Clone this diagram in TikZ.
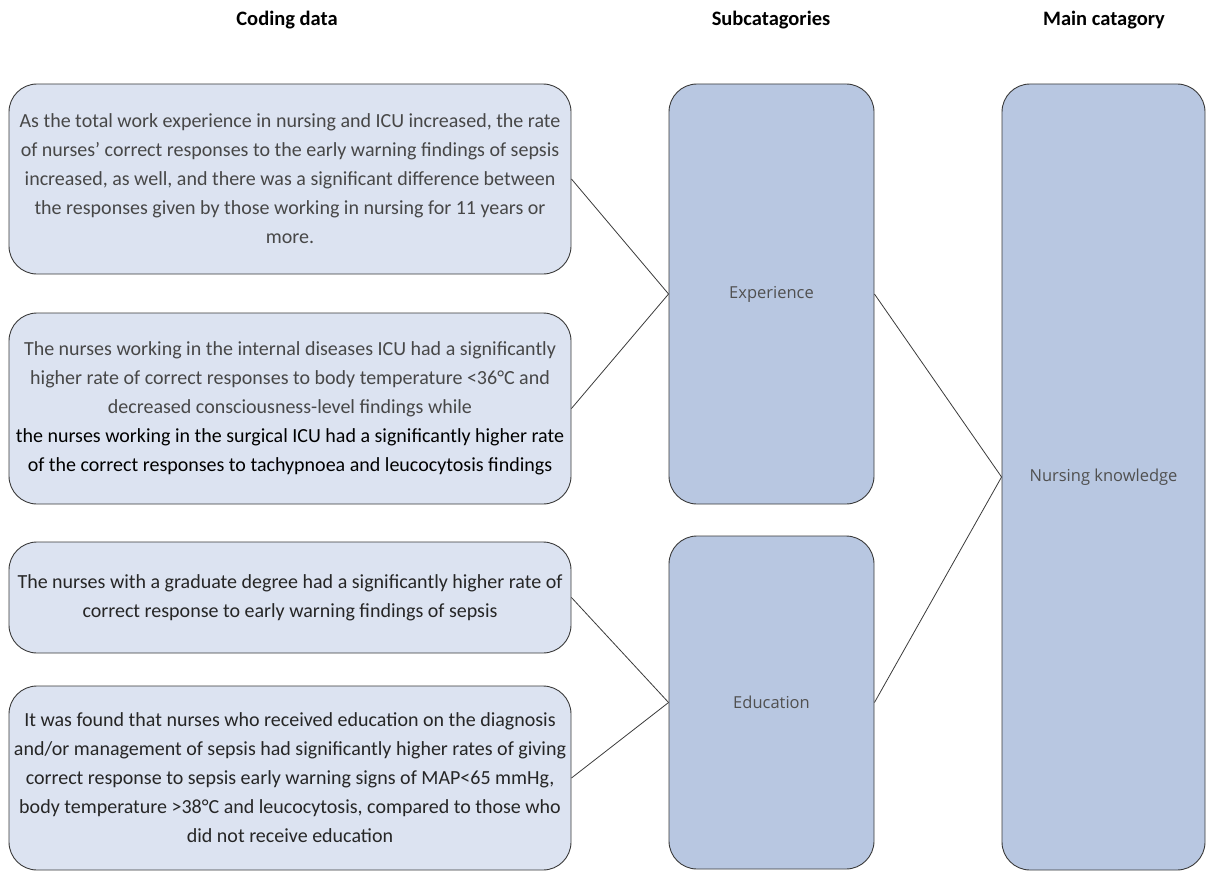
\documentclass[tikz,border=0pt]{standalone}
\usepackage{fontspec}
\setmainfont{Carlito}
\newfontfamily\labfont{Open Sans}
\definecolor{codefill}{HTML}{DCE3F1}
\definecolor{subfill}{HTML}{B8C7E1}
\definecolor{edgecol}{HTML}{3A3A3A}
\definecolor{lighttext}{HTML}{474747}
\definecolor{labtext}{HTML}{505050}
\begin{document}
\begin{tikzpicture}[x=1pt,y=-1pt,
  codebox/.style={draw=edgecol,line width=0.9pt,fill=codefill,rounded corners=28pt,
    minimum width=562pt,inner sep=0pt,align=center,
    font=\fontsize{20}{29}\selectfont},
  subbox/.style={draw=edgecol,line width=0.9pt,fill=subfill,rounded corners=28pt,
    minimum width=205pt,inner sep=0pt,align=center,
    font=\labfont\fontsize{16.5}{20}\selectfont,text=labtext},
  header/.style={font=\bfseries\fontsize{20.5}{24}\selectfont,text=black},
  link/.style={draw=edgecol,line width=0.8pt}]
\useasboundingbox (0,0) rectangle (1206,872);
% headers
\node[header] (h1) at (287,20) {Coding data};
\node[header] (h2) at (771,20) {Subcatagories};
\node[header] (h3) at (1104,20) {Main catagory};
% coding boxes
\node[codebox,minimum height=190pt,text=lighttext] (a1) at (290,179)
 {As the total work experience in nursing and ICU increased, the rate\\
  of nurses’ correct responses to the early warning findings of sepsis\\
  increased, as well, and there was a significant difference between\\
  the responses given by those working in nursing for 11 years or\\
  more.};
\node[codebox,minimum height=191pt] (a2) at (290,408.5)
 {\textcolor{lighttext}{The nurses working in the internal diseases ICU had a significantly}\\
  \textcolor{lighttext}{higher rate of correct responses to body temperature <36°C and}\\
  \textcolor{lighttext}{decreased consciousness-level findings while}\\
  \textcolor{black}{the nurses working in the surgical ICU had a significantly higher rate}\\
  \textcolor{black}{of the correct responses to tachypnoea and leucocytosis findings}};
\node[codebox,minimum height=111pt,text=black!85] (a3) at (290,597.5)
 {The nurses with a graduate degree had a significantly higher rate of\\
  correct response to early warning findings of sepsis};
\node[codebox,minimum height=184pt,text=black!85] (a4) at (290,778)
 {It was found that nurses who received education on the diagnosis\\
  and/or management of sepsis had significantly higher rates of giving\\
  correct response to sepsis early warning signs of MAP<65 mmHg,\\
  body temperature >38°C and leucocytosis, compared to those who\\
  did not receive education};
% subcategories
\node[subbox,minimum height=420pt] (exp) at (771.5,294) {Experience};
\node[subbox,minimum height=333pt] (edu) at (771.5,702.5) {Education};
% main
\node[subbox,minimum width=203pt,minimum height=786pt] (main) at (1103.5,477) {Nursing knowledge};
% connectors
\draw[link] (a1.east) -- (exp.west);
\draw[link] (a2.east) -- (exp.west);
\draw[link] (a3.east) -- (edu.west);
\draw[link] (a4.east) -- (edu.west);
\draw[link] (exp.east) -- (main.west);
\draw[link] (edu.east) -- (main.west);
\end{tikzpicture}
\end{document}
